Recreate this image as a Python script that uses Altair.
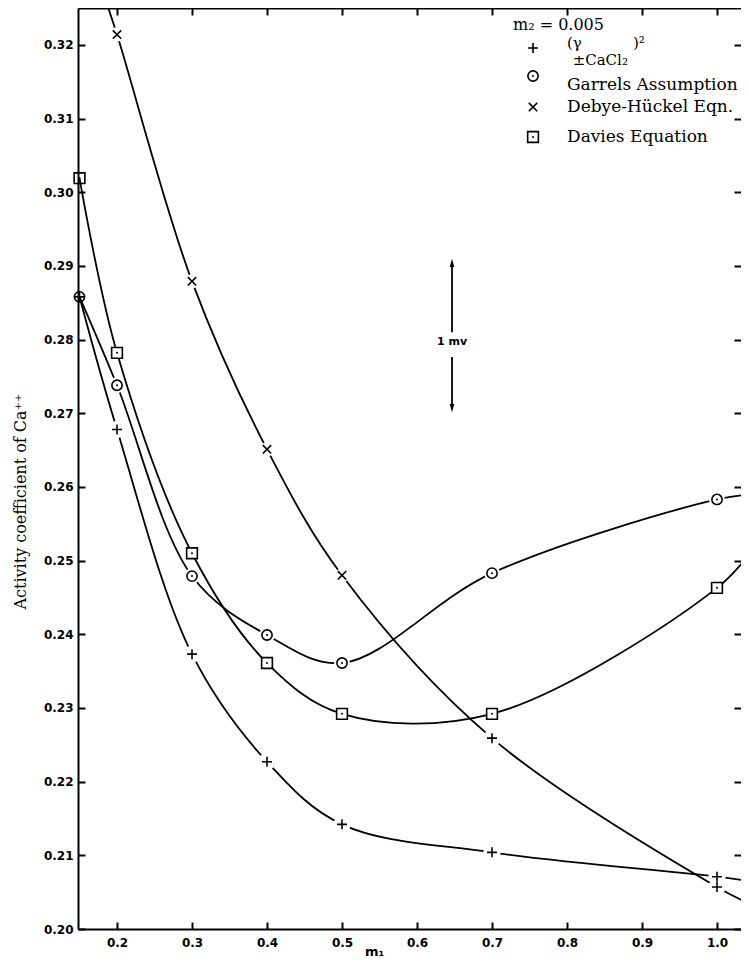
import altair as alt
import pandas as pd

# ---------------- data ----------------
x_ticks = [0.2, 0.3, 0.4, 0.5, 0.6, 0.7, 0.8, 0.9, 1.0]
y_ticks = [0.20, 0.21, 0.22, 0.23, 0.24, 0.25, 0.26, 0.27, 0.28, 0.29, 0.30, 0.31, 0.32]

# (gamma +- CaCl2)^2
m1_gamma = [0.15, 0.2, 0.3, 0.4, 0.5, 0.7, 1.0, 1.05]
gamma_sq = [0.2858, 0.2678, 0.2373, 0.2227, 0.2142, 0.2104, 0.2071, 0.2064]
# Garrels assumption
m1_garrels = [0.15, 0.2, 0.3, 0.4, 0.5, 0.7, 1.0, 1.05]
garrels = [0.2858, 0.2738, 0.2479, 0.2399, 0.2361, 0.2483, 0.2583, 0.2590]
# Debye-Hueckel equation
m1_dh = [0.18, 0.2, 0.3, 0.4, 0.5, 0.7, 1.0, 1.05]
debye_huckel = [0.3275, 0.3214, 0.2879, 0.2651, 0.2480, 0.2259, 0.2057, 0.2031]
# Davies equation
m1_davies = [0.15, 0.2, 0.3, 0.4, 0.5, 0.7, 1.0, 1.05]
davies = [0.3019, 0.2782, 0.2510, 0.2361, 0.2292, 0.2292, 0.2463, 0.2518]

# which curve points carry a plotted symbol
gamma_marks = ["plus", "plus", "plus", "plus", "plus", "plus", "plus", ""]
garrels_marks = ["circle", "circle", "circle", "circle", "circle", "circle", "circle", ""]
dh_marks = ["", "x", "x", "x", "x", "plus", "plus", ""]
davies_marks = ["square", "square", "square", "square", "square", "square", "square", ""]

# legend
legend_marks = ["plus", "circle", "x", "square"]
legend_mark_x = [0.7547, 0.7547, 0.7547, 0.7547]
legend_mark_y = [0.31957, 0.31577, 0.31156, 0.30749]
legend_labels = ["Garrels Assumption", "Debye-Hückel Eqn.", "Davies Equation"]
legend_label_x = [0.800, 0.800, 0.800]
legend_label_y = [0.31455, 0.31156, 0.30749]
gamma_label_parts = ["(γ", "±CaCl₂", ")²"]
gamma_label_x = [0.800, 0.8075, 0.8880]
gamma_label_y = [0.32025, 0.31800, 0.32025]
header_text = ["m₂ = 0.005"]
header_x = [0.728]
header_y = [0.32269]

# 1 mv scale arrow
mv_x = [0.6467, 0.6467]
mv_shaft_from = [0.2810, 0.27763]
mv_shaft_to = [0.29039, 0.27071]
mv_head_y = [0.29040, 0.27070]
mv_head_dir = ["up", "down"]
mv_label = ["1 mv"]
mv_label_y = [0.27967]

# ---------------- tables ----------------
rows = []
for name, xs_, ys_, ms in [
    ("gamma", m1_gamma, gamma_sq, gamma_marks),
    ("garrels", m1_garrels, garrels, garrels_marks),
    ("dh", m1_dh, debye_huckel, dh_marks),
    ("davies", m1_davies, davies, davies_marks),
]:
    for a, b, m in zip(xs_, ys_, ms):
        rows.append({"series": name, "x": a, "y": b, "marker": m})
curves = pd.DataFrame(rows)
markers = curves[curves["marker"] != ""].reset_index(drop=True)

legend_pts = pd.DataFrame({"x": legend_mark_x, "y": legend_mark_y, "marker": legend_marks})
legend_txt = pd.DataFrame({"x": legend_label_x, "y": legend_label_y, "t": legend_labels})
gamma_txt = pd.DataFrame({"x": gamma_label_x, "y": gamma_label_y, "t": gamma_label_parts})
head_txt = pd.DataFrame({"x": header_x, "y": header_y, "t": header_text})
mv_rules = pd.DataFrame({"x": mv_x, "y": mv_shaft_from, "y2": mv_shaft_to})
mv_heads = pd.DataFrame({"x": mv_x, "y": mv_head_y, "d": mv_head_dir})
mv_txt = pd.DataFrame({"x": mv_x[:1], "y": mv_label_y, "t": mv_label})

# ---------------- scales & axes ----------------
xs = alt.Scale(domain=[0.148, 1.032], nice=False, zero=False)
ys = alt.Scale(domain=[0.20, 0.325], nice=False, zero=False)

PLUS = "M-1,0L1,0M0,-1L0,1"
CROSS = "M-0.8,-0.8L0.8,0.8M-0.8,0.8L0.8,-0.8"
KINDS = ["plus", "circle", "x", "square"]
shape_scale = alt.Scale(domain=KINDS, range=[PLUS, "circle", CROSS, "square"])
size_scale = alt.Scale(domain=KINDS, range=[100, 115, 70, 115])
gap_scale = alt.Scale(domain=KINDS, range=[300, 160, 300, 170])
ARROW_UP = "M0,-1L0.55,1L-0.55,1Z"
ARROW_DOWN = "M0,1L0.55,-1L-0.55,-1Z"

x_main = alt.Axis(orient="bottom", values=x_ticks, format=".1f", ticks=False,
                  domain=True, domainColor="black", domainWidth=2,
                  grid=False, labelFont="DejaVu Sans", labelFontWeight="bold", labelFontSize=12,
                  labelColor="black", labelPadding=8, labelFlush=False, labelOverlap=False,
                  title="m₁", titleFont="DejaVu Sans", titleFontWeight="bold", titleFontSize=13,
                  titleColor="black", titleX=296, titleY=22, titleAlign="center",
                  titleBaseline="middle")
y_main = alt.Axis(orient="left", values=y_ticks, format=".2f", ticks=False,
                  domain=True, domainColor="black", domainWidth=2,
                  grid=False, labelFont="DejaVu Sans", labelFontWeight="bold", labelFontSize=12,
                  labelColor="black", labelPadding=5, labelFlush=False, labelOverlap=False,
                  title="Activity coefficient of Ca⁺⁺", titleFont="DejaVu Serif",
                  titleFontWeight="normal", titleFontSize=16, titleColor="black",
                  titleX=-58, titleY=493, titleAngle=270, titleAlign="center",
                  titleBaseline="middle")
x_top_frame = alt.Axis(orient="top", values=x_ticks, ticks=False, labels=False, domain=True,
                       domainColor="black", domainWidth=2, grid=False)


def tick_axis(orient, vals):
    return alt.Axis(orient=orient, offset=-7, values=vals, tickSize=7, tickWidth=2,
                    tickColor="black", labels=False, domain=False, grid=False)


lines = alt.Chart(curves).mark_line(
    interpolate="catmull-rom", clip=True, color="black", strokeWidth=1.8
).encode(
    x=alt.X("x:Q", scale=xs, axis=x_main),
    y=alt.Y("y:Q", scale=ys, axis=y_main),
    detail="series:N",
)

gaps = alt.Chart(markers).transform_filter("datum.x > 0.16").mark_point(
    filled=True, color="white", opacity=1, strokeWidth=0
).encode(
    x=alt.X("x:Q", scale=xs, axis=tick_axis("bottom", x_ticks), title=None),
    y=alt.Y("y:Q", scale=ys, axis=tick_axis("left", y_ticks), title=None),
    size=alt.Size("marker:N", scale=gap_scale, legend=None),
)

syms = alt.Chart(markers).mark_point(
    filled=False, color="black", strokeWidth=1.6, opacity=1
).encode(
    x=alt.X("x:Q", scale=xs, axis=tick_axis("top", x_ticks), title=None),
    y=alt.Y("y:Q", scale=ys, axis=tick_axis("right", y_ticks), title=None),
    shape=alt.Shape("marker:N", scale=shape_scale, legend=None),
    size=alt.Size("marker:N", scale=size_scale, legend=None),
)

dots = alt.Chart(markers).transform_filter(
    "datum.marker == 'circle' || datum.marker == 'square'"
).mark_point(filled=True, color="black", size=4, opacity=1).encode(
    x=alt.X("x:Q", scale=xs, axis=x_top_frame, title=None),
    y=alt.Y("y:Q", scale=ys, axis=None),
)

leg_syms = alt.Chart(legend_pts).mark_point(
    filled=False, color="black", strokeWidth=1.6, opacity=1
).encode(
    x=alt.X("x:Q", scale=xs, axis=None),
    y=alt.Y("y:Q", scale=ys, axis=None),
    shape=alt.Shape("marker:N", scale=shape_scale, legend=None),
    size=alt.Size("marker:N", scale=size_scale, legend=None),
)
leg_dots = alt.Chart(legend_pts).transform_filter(
    "datum.marker == 'circle' || datum.marker == 'square'"
).mark_point(filled=True, color="black", size=4, opacity=1).encode(
    x=alt.X("x:Q", scale=xs, axis=None),
    y=alt.Y("y:Q", scale=ys, axis=None),
)

serif = dict(font="DejaVu Serif", color="black", align="left", baseline="middle")
leg_text = alt.Chart(legend_txt).mark_text(fontSize=17, **serif).encode(
    x=alt.X("x:Q", scale=xs, axis=None), y=alt.Y("y:Q", scale=ys, axis=None), text="t:N")
gam_text = alt.Chart(gamma_txt).mark_text(fontSize=15, **serif).encode(
    x=alt.X("x:Q", scale=xs, axis=None), y=alt.Y("y:Q", scale=ys, axis=None), text="t:N")
hdr_text = alt.Chart(head_txt).mark_text(fontSize=16, **serif).encode(
    x=alt.X("x:Q", scale=xs, axis=None), y=alt.Y("y:Q", scale=ys, axis=None), text="t:N")

mv_shaft = alt.Chart(mv_rules).mark_rule(color="black", strokeWidth=1.8).encode(
    x=alt.X("x:Q", scale=xs, axis=None),
    y=alt.Y("y:Q", scale=ys, axis=None),
    y2="y2:Q",
)
mv_head = alt.Chart(mv_heads).mark_point(filled=True, color="black", opacity=1, size=70,
                                         strokeWidth=0).encode(
    x=alt.X("x:Q", scale=xs, axis=None),
    y=alt.Y("y:Q", scale=ys, axis=None),
    shape=alt.Shape("d:N", scale=alt.Scale(domain=["up", "down"],
                                           range=[ARROW_UP, ARROW_DOWN]), legend=None),
)
mv_text = alt.Chart(mv_txt).mark_text(font="DejaVu Sans", fontWeight="bold", fontSize=11,
                                      color="black", align="center", baseline="middle").encode(
    x=alt.X("x:Q", scale=xs, axis=None), y=alt.Y("y:Q", scale=ys, axis=None), text="t:N")

chart = alt.layer(
    lines, gaps, syms, dots, leg_syms, leg_dots, leg_text, gam_text, hdr_text,
    mv_shaft, mv_head, mv_text,
).resolve_axis(x="independent", y="independent").resolve_scale(
    size="independent", shape="independent"
).properties(
    width=663, height=921,
    autosize=alt.AutoSizeParams(type="none"),
    padding={"left": 70, "top": 0, "right": 0, "bottom": 30},
    background="white",
).configure_view(strokeOpacity=0)

chart.save("out.html", embed_options={"renderer": "svg", "actions": False})
